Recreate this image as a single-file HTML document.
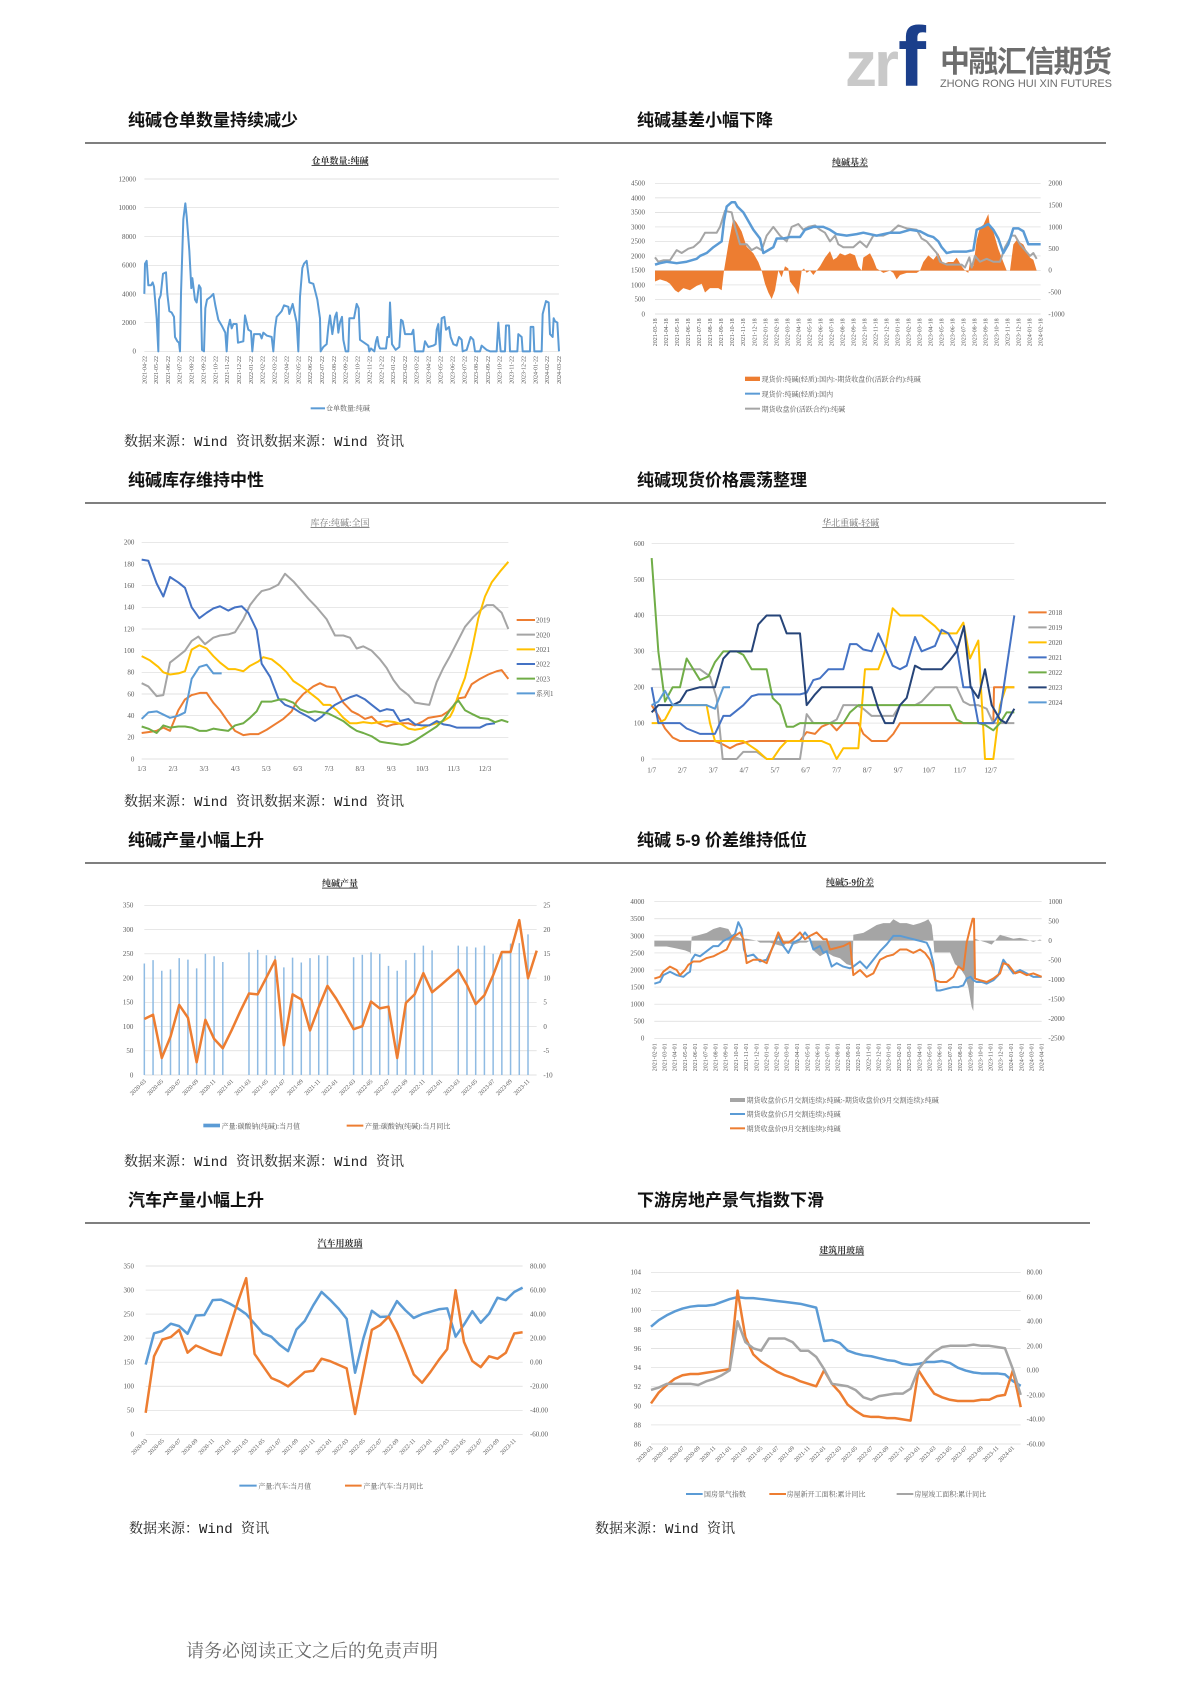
<!DOCTYPE html>
<html><head><meta charset="utf-8"><style>
html,body{margin:0;padding:0;background:#fff}
svg{display:block}
.h{font-family:"Liberation Sans","Noto Sans CJK SC",sans-serif;font-size:17px;font-weight:bold;fill:#111}
.s{font-family:"Liberation Mono","Noto Serif CJK SC",serif;font-size:14px;fill:#222}
.t{font-family:"Liberation Serif","Noto Serif CJK SC",serif;font-size:21px;fill:#595959}
.tt{font-family:"Liberation Serif","Noto Serif CJK SC",serif;font-size:27px;font-weight:bold;fill:#333;text-anchor:middle;text-decoration:underline}
.d{font-family:"Liberation Serif","Noto Serif CJK SC",serif;font-size:18px;fill:#595959;text-anchor:end}
.g{stroke:#d9d9d9;stroke-width:2}
.l{fill:none;stroke-width:2;vector-effect:non-scaling-stroke;stroke-linejoin:round}
.r{text-anchor:end}
</style></head><body>
<svg width="1190" height="1683" viewBox="0 0 1190 1683" xmlns="http://www.w3.org/2000/svg">
<rect width="1190" height="1683" fill="#fff"/>
<!-- logo -->
<text x="845" y="86" font-family="Liberation Sans,sans-serif" font-size="64" font-weight="bold" fill="#c9c9c9" letter-spacing="-3">zr</text>
<text x="898" y="86" font-family="Liberation Sans,sans-serif" font-size="84" font-weight="bold" fill="#1b3f8b">f</text>
<text x="940" y="72" font-family="Liberation Sans,'Noto Sans CJK SC',sans-serif" font-size="30" font-weight="bold" fill="#6d6d6d" textLength="172">中融汇信期货</text>
<text x="940" y="87" font-family="Liberation Sans,sans-serif" font-size="11" fill="#6d6d6d" textLength="172">ZHONG RONG HUI XIN FUTURES</text>

<!-- headings -->
<text class="h" x="128" y="126">纯碱仓单数量持续减少</text>
<text class="h" x="637" y="126">纯碱基差小幅下降</text>
<text class="h" x="128" y="486">纯碱库存维持中性</text>
<text class="h" x="637" y="486">纯碱现货价格震荡整理</text>
<text class="h" x="128" y="846">纯碱产量小幅上升</text>
<text class="h" x="637" y="846">纯碱 5-9 价差维持低位</text>
<text class="h" x="128" y="1206">汽车产量小幅上升</text>
<text class="h" x="637" y="1206">下游房地产景气指数下滑</text>
<g stroke="#333" stroke-width="1.3">
<line x1="85" y1="143" x2="1106" y2="143"/><line x1="85" y1="503" x2="1106" y2="503"/>
<line x1="85" y1="863" x2="1106" y2="863"/><line x1="85" y1="1223" x2="1090" y2="1223"/>
</g>
<text class="s" x="124" y="446">数据来源：Wind 资讯数据来源：Wind 资讯</text>
<text class="s" x="124" y="806">数据来源：Wind 资讯数据来源：Wind 资讯</text>
<text class="s" x="124" y="1166">数据来源：Wind 资讯数据来源：Wind 资讯</text>
<text class="s" x="129" y="1533">数据来源：Wind 资讯</text>
<text class="s" x="595" y="1533">数据来源：Wind 资讯</text>
<text x="186" y="1657" font-family="Liberation Serif,'Noto Serif CJK SC',serif" font-size="18" fill="#666">请务必阅读正文之后的免责声明</text>

<!-- CHART 1 -->
<g transform="translate(80,140) scale(0.33333)">
<text class="tt" x="780" y="72">仓单数量:纯碱</text>
<g class="g"><line x1="193" x2="1437" y1="117" y2="117"/><line x1="193" x2="1437" y1="203" y2="203"/><line x1="193" x2="1437" y1="290" y2="290"/><line x1="193" x2="1437" y1="376" y2="376"/><line x1="193" x2="1437" y1="462" y2="462"/><line x1="193" x2="1437" y1="548" y2="548"/><line x1="193" x2="1437" y1="634" y2="634"/></g>
<g class="t r"><text x="168" y="124">12000</text><text x="168" y="210">10000</text><text x="168" y="297">8000</text><text x="168" y="383">6000</text><text x="168" y="469">4000</text><text x="168" y="555">2000</text><text x="168" y="641">0</text></g>
<g transform="translate(0,634) scale(1,-0.043083)"><polyline class="l" stroke="#5b9bd5" points="193,4000 195,6100 200,6300 205,4600 213,4600 218,4800 222,4500 230,2300 235,0 237,3600 242,3900 249,5400 258,5500 262,4000 268,2800 275,2700 282,2400 285,1000 292,700 297,600 300,0 303,4000 310,9200 316,10300 320,9400 328,7000 334,4400 337,5100 345,3600 350,3400 357,4600 362,4400 366,100 372,0 376,3000 381,3600 392,3800 400,4000 406,3200 415,2200 425,1800 436,1300 440,0 444,1600 450,2200 455,1600 460,1900 470,1900 474,600 490,700 495,2500 505,1500 513,1400 517,0 522,1200 540,1200 545,900 550,1300 560,1100 575,1000 580,0 585,1600 590,2400 605,2800 612,3200 625,3100 628,2600 638,3300 650,2000 655,0 660,3800 667,5800 672,6100 680,6300 688,4800 700,4700 712,3600 720,2300 722,0 730,300 740,500 745,1700 750,2500 757,1200 765,2400 770,2700 775,1300 780,2000 786,2400 790,800 797,0 805,0 808,2300 822,2300 830,3300 836,3000 840,800 865,400 868,0 873,200 883,0 888,700 892,1000 896,400 900,200 918,200 922,1000 927,1000 930,3400 936,500 947,100 958,300 963,2200 968,2100 975,1200 995,1200 1000,1500 1005,0 1030,0 1035,700 1045,300 1060,400 1067,500 1070,1500 1075,1900 1080,0 1085,2300 1093,2400 1098,1500 1107,1700 1112,1000 1120,500 1130,400 1137,1000 1145,800 1148,0 1160,100 1172,1000 1180,800 1185,0 1200,0 1205,400 1215,200 1220,100 1230,0 1250,0 1255,2000 1258,1000 1262,0 1275,0 1278,1800 1287,1800 1290,0 1312,0 1315,1200 1325,1000 1328,0 1350,0 1352,1700 1360,1700 1363,0 1385,0 1388,2600 1398,3500 1406,3400 1410,1200 1418,1000 1421,2300 1425,2100 1432,2000 1437,0"/></g>
<g class="d">
<text transform="translate(199,648) rotate(-90)">2021-04-22</text><text transform="translate(234,648) rotate(-90)">2021-05-22</text><text transform="translate(270,648) rotate(-90)">2021-06-22</text><text transform="translate(305,648) rotate(-90)">2021-07-22</text><text transform="translate(341,648) rotate(-90)">2021-08-22</text><text transform="translate(376,648) rotate(-90)">2021-09-22</text><text transform="translate(412,648) rotate(-90)">2021-10-22</text><text transform="translate(447,648) rotate(-90)">2021-11-22</text><text transform="translate(483,648) rotate(-90)">2021-12-22</text><text transform="translate(519,648) rotate(-90)">2022-01-22</text><text transform="translate(554,648) rotate(-90)">2022-02-22</text><text transform="translate(590,648) rotate(-90)">2022-03-22</text><text transform="translate(625,648) rotate(-90)">2022-04-22</text><text transform="translate(661,648) rotate(-90)">2022-05-22</text><text transform="translate(696,648) rotate(-90)">2022-06-22</text><text transform="translate(732,648) rotate(-90)">2022-07-22</text><text transform="translate(768,648) rotate(-90)">2022-08-22</text><text transform="translate(803,648) rotate(-90)">2022-09-22</text><text transform="translate(839,648) rotate(-90)">2022-10-22</text><text transform="translate(874,648) rotate(-90)">2022-11-22</text><text transform="translate(910,648) rotate(-90)">2022-12-22</text><text transform="translate(945,648) rotate(-90)">2023-01-22</text><text transform="translate(981,648) rotate(-90)">2023-02-22</text><text transform="translate(1016,648) rotate(-90)">2023-03-22</text><text transform="translate(1052,648) rotate(-90)">2023-04-22</text><text transform="translate(1088,648) rotate(-90)">2023-05-22</text><text transform="translate(1123,648) rotate(-90)">2023-06-22</text><text transform="translate(1159,648) rotate(-90)">2023-07-22</text><text transform="translate(1194,648) rotate(-90)">2023-08-22</text><text transform="translate(1230,648) rotate(-90)">2023-09-22</text><text transform="translate(1265,648) rotate(-90)">2023-10-22</text><text transform="translate(1301,648) rotate(-90)">2023-11-22</text><text transform="translate(1336,648) rotate(-90)">2023-12-22</text><text transform="translate(1372,648) rotate(-90)">2024-01-22</text><text transform="translate(1407,648) rotate(-90)">2024-02-22</text><text transform="translate(1443,648) rotate(-90)">2024-03-22</text>
</g>
<line x1="692" x2="735" y1="805" y2="805" stroke="#5b9bd5" stroke-width="6"/>
<text class="t" x="738" y="812" font-size="20">仓单数量:纯碱</text>
</g>

<!-- CHART 2 -->
<g transform="translate(600,100) scale(0.33333)">
<text class="tt" x="750" y="196">纯碱基差</text>
<g class="g"><line x1="165" x2="1322" y1="250" y2="250"/><line x1="165" x2="1322" y1="293.6" y2="293.6"/><line x1="165" x2="1322" y1="337.1" y2="337.1"/><line x1="165" x2="1322" y1="380.7" y2="380.7"/><line x1="165" x2="1322" y1="424.2" y2="424.2"/><line x1="165" x2="1322" y1="467.8" y2="467.8"/><line x1="165" x2="1322" y1="511.3" y2="511.3"/><line x1="165" x2="1322" y1="554.9" y2="554.9"/><line x1="165" x2="1322" y1="598.4" y2="598.4"/><line x1="165" x2="1322" y1="642" y2="642"/></g>
<g class="t r"><text x="135" y="257">4500</text><text x="135" y="301">4000</text><text x="135" y="344">3500</text><text x="135" y="388">3000</text><text x="135" y="431">2500</text><text x="135" y="475">2000</text><text x="135" y="518">1500</text><text x="135" y="562">1000</text><text x="135" y="605">500</text><text x="135" y="649">0</text></g>
<g class="t"><text x="1345" y="257">2000</text><text x="1345" y="322">1500</text><text x="1345" y="388">1000</text><text x="1345" y="453">500</text><text x="1345" y="518">0</text><text x="1345" y="584">-500</text><text x="1345" y="649">-1000</text></g>
<g transform="translate(0,512) scale(1,-0.13067)"><polygon fill="#ed7d31" points="165,0 165,-250 180,-200 200,-250 210,-300 225,-450 235,-500 250,-400 270,-450 290,-350 305,-300 315,-500 330,-400 355,-400 365,-450 372,0 385,600 400,1200 410,1100 425,900 440,550 460,400 475,200 485,0 495,-300 505,-500 515,-650 525,-450 535,0 545,-150 555,100 565,50 570,-250 585,-400 595,-550 600,-300 605,0 612,50 620,-50 630,0 640,-100 650,0 660,100 675,300 690,450 700,250 710,300 720,400 735,350 750,400 765,350 775,100 785,0 790,300 810,400 820,250 830,50 840,0 850,-50 870,0 880,-50 890,-200 900,-100 920,-50 950,-50 960,0 970,200 985,350 1000,250 1015,400 1030,150 1045,200 1060,200 1070,300 1085,100 1095,0 1105,-50 1110,200 1120,100 1130,700 1140,1000 1150,1050 1165,1300 1170,1000 1180,900 1195,500 1210,200 1220,0 1230,0 1240,600 1250,700 1270,600 1290,300 1300,250 1310,0"/></g>
<g transform="translate(0,642) scale(1,-0.087111)">
<polyline class="l" stroke="#a5a5a5" points="165,1950 175,1800 190,1850 210,1850 230,2200 245,2100 265,2250 280,2300 300,2500 315,2800 330,2800 350,2800 360,3000 375,3550 395,3500 405,3000 420,2400 440,2400 455,2200 470,2300 485,2200 500,2700 520,3000 540,2700 560,2500 575,3000 595,3100 610,2900 625,3000 645,3050 660,2900 675,2800 690,2500 705,2700 715,2400 730,2300 760,2300 780,2500 800,2300 820,2700 850,2700 870,2800 895,3050 920,2950 950,2900 965,2600 980,2500 995,2300 1010,2100 1020,1800 1040,1700 1070,1700 1085,1700 1095,1600 1108,1950 1115,1600 1125,2000 1140,1800 1160,1900 1180,1800 1200,1800 1215,2300 1235,2700 1245,2700 1260,2400 1275,2200 1290,2000 1300,2100 1310,1900"/>
<polyline class="l" stroke="#5b9bd5" style="stroke-width:2.5" points="165,1700 180,1750 200,1800 230,1750 260,1800 290,1900 300,2000 320,2100 340,2300 365,2500 372,3200 380,3700 395,3850 405,3850 412,3700 430,3500 440,3300 460,2900 480,2600 490,2100 505,2200 520,2300 530,2600 550,2600 570,2650 600,2650 615,2900 640,3000 670,3000 690,2900 710,2750 740,2700 770,2750 790,2800 830,2700 870,2800 900,2800 930,2900 960,2850 985,2700 1000,2650 1015,2500 1025,2300 1040,2100 1060,2150 1080,2150 1100,2150 1120,2200 1130,2900 1150,3000 1165,3100 1180,2900 1195,2600 1210,2100 1225,2400 1240,2950 1255,2950 1270,2850 1285,2400 1300,2400 1322,2400"/>
</g>
<g class="d">
<text transform="translate(171,655) rotate(-90)">2021-03-18</text><text transform="translate(204,655) rotate(-90)">2021-04-18</text><text transform="translate(237,655) rotate(-90)">2021-05-18</text><text transform="translate(270,655) rotate(-90)">2021-06-18</text><text transform="translate(303,655) rotate(-90)">2021-07-18</text><text transform="translate(336,655) rotate(-90)">2021-08-18</text><text transform="translate(369,655) rotate(-90)">2021-09-18</text><text transform="translate(402,655) rotate(-90)">2021-10-18</text><text transform="translate(435,655) rotate(-90)">2021-11-18</text><text transform="translate(469,655) rotate(-90)">2021-12-18</text><text transform="translate(502,655) rotate(-90)">2022-01-18</text><text transform="translate(535,655) rotate(-90)">2022-02-18</text><text transform="translate(568,655) rotate(-90)">2022-03-18</text><text transform="translate(601,655) rotate(-90)">2022-04-18</text><text transform="translate(634,655) rotate(-90)">2022-05-18</text><text transform="translate(667,655) rotate(-90)">2022-06-18</text><text transform="translate(700,655) rotate(-90)">2022-07-18</text><text transform="translate(733,655) rotate(-90)">2022-08-18</text><text transform="translate(766,655) rotate(-90)">2022-09-18</text><text transform="translate(799,655) rotate(-90)">2022-10-18</text><text transform="translate(832,655) rotate(-90)">2022-11-18</text><text transform="translate(865,655) rotate(-90)">2022-12-18</text><text transform="translate(898,655) rotate(-90)">2023-01-18</text><text transform="translate(931,655) rotate(-90)">2023-02-18</text><text transform="translate(964,655) rotate(-90)">2023-03-18</text><text transform="translate(998,655) rotate(-90)">2023-04-18</text><text transform="translate(1031,655) rotate(-90)">2023-05-18</text><text transform="translate(1064,655) rotate(-90)">2023-06-18</text><text transform="translate(1097,655) rotate(-90)">2023-07-18</text><text transform="translate(1130,655) rotate(-90)">2023-08-18</text><text transform="translate(1163,655) rotate(-90)">2023-09-18</text><text transform="translate(1196,655) rotate(-90)">2023-10-18</text><text transform="translate(1229,655) rotate(-90)">2023-11-18</text><text transform="translate(1262,655) rotate(-90)">2023-12-18</text><text transform="translate(1295,655) rotate(-90)">2024-01-18</text><text transform="translate(1328,655) rotate(-90)">2024-02-18</text>
</g>
<rect x="435" y="830" width="45" height="13" fill="#ed7d31"/>
<line x1="435" x2="480" y1="881" y2="881" stroke="#5b9bd5" stroke-width="6"/>
<line x1="435" x2="480" y1="926" y2="926" stroke="#a5a5a5" stroke-width="6"/>
<g class="t"><text x="485" y="844">现货价:纯碱(轻质):国内:-期货收盘价(活跃合约):纯碱</text><text x="485" y="889">现货价:纯碱(轻质):国内</text><text x="485" y="934">期货收盘价(活跃合约):纯碱</text></g>
</g>

<!-- CHART 3 -->
<g transform="translate(80,460) scale(0.33333)">
<text class="tt" x="780" y="198" style="fill:#777;font-weight:normal">库存:纯碱:全国</text>
<g class="g"><line x1="185" x2="1285" y1="247" y2="247"/><line x1="185" x2="1285" y1="312" y2="312"/><line x1="185" x2="1285" y1="377" y2="377"/><line x1="185" x2="1285" y1="442" y2="442"/><line x1="185" x2="1285" y1="507" y2="507"/><line x1="185" x2="1285" y1="572" y2="572"/><line x1="185" x2="1285" y1="637" y2="637"/><line x1="185" x2="1285" y1="702" y2="702"/><line x1="185" x2="1285" y1="767" y2="767"/><line x1="185" x2="1285" y1="832" y2="832"/><line x1="185" x2="1285" y1="897" y2="897"/></g>
<g class="t r"><text x="163" y="254">200</text><text x="163" y="319">180</text><text x="163" y="384">160</text><text x="163" y="449">140</text><text x="163" y="514">120</text><text x="163" y="579">100</text><text x="163" y="644">80</text><text x="163" y="709">60</text><text x="163" y="774">40</text><text x="163" y="839">20</text><text x="163" y="904">0</text></g>
<g class="t" text-anchor="middle"><text x="185" y="933">1/3</text><text x="279" y="933">2/3</text><text x="372" y="933">3/3</text><text x="466" y="933">4/3</text><text x="559" y="933">5/3</text><text x="653" y="933">6/3</text><text x="747" y="933">7/3</text><text x="840" y="933">8/3</text><text x="934" y="933">9/3</text><text x="1027" y="933">10/3</text><text x="1121" y="933">11/3</text><text x="1215" y="933">12/3</text></g>
<g transform="translate(0,897) scale(1,-3.25)">
<polyline class="l" stroke="#a5a5a5" points="185,70 205,67 230,58 250,59 270,89 295,95 315,100 335,109 355,113 375,106 400,112 420,114 445,115 465,117 490,129 510,142 530,150 545,155 570,157 595,161 615,171 640,164 660,157 685,148 710,140 740,129 765,114 790,114 810,112 830,102 850,104 875,100 900,92 920,84 940,73 960,65 985,59 1005,52 1025,51 1048,50 1070,71 1090,84 1110,95 1130,107 1155,122 1180,131 1200,137 1220,142 1240,142 1265,135 1285,120"/>
<polyline class="l" stroke="#ed7d31" points="185,24 210,25 230,26 250,29 270,26 295,45 315,55 335,59 360,61 380,61 400,52 420,45 445,34 465,26 490,22 510,23 535,23 560,27 585,32 610,37 635,44 650,53 670,60 700,67 720,70 740,67 765,66 790,52 815,44 835,41 855,37 875,39 895,33 920,30 940,32 965,33 985,33 1005,31 1030,35 1045,38 1065,39 1085,40 1105,44 1120,49 1135,56 1155,57 1175,69 1200,74 1225,78 1250,81 1265,82 1285,74"/>
<polyline class="l" stroke="#ffc000" points="185,95 210,91 235,85 250,80 270,78 295,79 315,81 335,101 358,105 380,102 400,95 420,89 445,83 465,83 490,81 510,86 535,90 550,94 575,92 600,86 620,80 640,72 665,67 690,61 715,55 730,50 750,50 770,45 790,38 810,33 830,33 850,34 875,33 900,34 920,35 945,34 965,32 985,28 1005,27 1025,28 1045,31 1070,33 1090,35 1110,39 1120,45 1135,59 1155,75 1175,100 1195,130 1215,150 1235,163 1260,173 1285,182"/>
<polyline class="l" stroke="#4472c4" points="185,184 205,183 230,162 250,150 270,168 295,163 315,158 335,140 358,130 380,135 400,139 420,141 445,137 465,140 485,141 505,135 530,119 545,88 570,76 595,56 615,50 640,47 660,43 685,39 705,35 725,39 745,45 765,50 790,54 810,57 830,59 855,55 875,50 900,44 920,46 940,45 960,35 985,37 1005,32 1025,31 1048,31 1070,35 1090,32 1110,31 1130,29 1155,29 1175,29 1200,29 1220,32 1245,33"/>
<polyline class="l" stroke="#70ad47" points="185,30 205,28 230,24 250,31 270,29 295,30 315,30 335,29 358,26 380,26 400,28 420,27 445,26 465,31 490,33 510,38 530,44 545,53 575,53 600,55 615,55 640,52 660,46 685,43 705,44 725,43 745,42 765,39 790,35 810,30 830,26 850,24 875,21 900,16 920,15 945,14 965,13 985,14 1005,17 1025,21 1045,25 1070,30 1090,36 1110,45 1125,51 1135,54 1155,45 1180,41 1200,38 1225,37 1245,34 1265,36 1285,34"/>
<polyline class="l" stroke="#5b9bd5" points="185,37 205,43 230,44 250,41 270,38 295,40 315,43 335,74 358,85 380,87 400,79 425,79"/>
</g>
<g stroke-width="6"><line x1="1310" x2="1365" y1="480" y2="480" stroke="#ed7d31"/><line x1="1310" x2="1365" y1="524" y2="524" stroke="#a5a5a5"/><line x1="1310" x2="1365" y1="568" y2="568" stroke="#ffc000"/><line x1="1310" x2="1365" y1="612" y2="612" stroke="#4472c4"/><line x1="1310" x2="1365" y1="656" y2="656" stroke="#70ad47"/><line x1="1310" x2="1365" y1="700" y2="700" stroke="#5b9bd5"/></g>
<g class="t" font-size="22"><text x="1368" y="488">2019</text><text x="1368" y="532">2020</text><text x="1368" y="576">2021</text><text x="1368" y="620">2022</text><text x="1368" y="664">2023</text><text x="1368" y="708">系列1</text></g>
</g>

<!-- CHART 4 -->
<g transform="translate(600,460) scale(0.33333)">
<text class="tt" x="752" y="198" style="fill:#777;font-weight:normal">华北重碱-轻碱</text>
<g class="g"><line x1="155" x2="1243" y1="251" y2="251"/><line x1="155" x2="1243" y1="358.7" y2="358.7"/><line x1="155" x2="1243" y1="466.3" y2="466.3"/><line x1="155" x2="1243" y1="574" y2="574"/><line x1="155" x2="1243" y1="681.7" y2="681.7"/><line x1="155" x2="1243" y1="789.3" y2="789.3"/><line x1="155" x2="1243" y1="897" y2="897"/></g>
<g class="t r"><text x="133" y="258">600</text><text x="133" y="366">500</text><text x="133" y="473">400</text><text x="133" y="581">300</text><text x="133" y="689">200</text><text x="133" y="796">100</text><text x="133" y="904">0</text></g>
<g class="t" text-anchor="middle"><text x="155" y="937">1/7</text><text x="247" y="937">2/7</text><text x="340" y="937">3/7</text><text x="432" y="937">4/7</text><text x="525" y="937">5/7</text><text x="617" y="937">6/7</text><text x="710" y="937">7/7</text><text x="802" y="937">8/7</text><text x="895" y="937">9/7</text><text x="987" y="937">10/7</text><text x="1080" y="937">11/7</text><text x="1172" y="937">12/7</text></g>
<g transform="translate(0,897) scale(1,-1.07667)">
<polyline class="l" stroke="#ed7d31" points="155,150 175,120 195,85 218,60 240,50 270,50 300,50 345,50 370,40 390,30 410,40 430,45 450,50 600,50 620,75 645,70 665,90 690,100 710,80 730,100 775,100 790,70 815,50 860,50 880,70 900,100 1180,100 1182,200 1243,200"/>
<polyline class="l" stroke="#a5a5a5" points="155,250 300,250 330,230 350,170 368,0 410,0 430,20 470,20 500,0 600,0 620,125 640,100 690,100 710,110 730,150 770,150 790,140 815,120 860,120 880,120 900,150 945,150 965,160 1005,200 1070,200 1090,160 1110,150 1135,150 1160,140 1180,100 1243,100"/>
<polyline class="l" stroke="#ffc000" points="155,100 175,100 195,110 218,150 320,150 330,100 345,50 430,50 470,25 500,0 518,0 540,30 560,50 665,50 690,40 710,0 730,30 775,30 795,250 835,250 855,300 878,420 900,400 965,400 1005,370 1025,350 1070,350 1090,380 1110,280 1135,330 1155,0 1180,0 1200,150 1218,200 1243,200"/>
<polyline class="l" stroke="#70ad47" points="155,560 175,300 195,160 218,200 240,200 260,280 300,220 325,230 345,270 370,300 410,300 430,290 455,250 500,250 518,170 540,150 560,90 580,90 600,100 730,100 750,130 775,150 1050,150 1070,110 1090,100 1135,100 1155,95 1180,80 1200,100 1220,130 1243,130"/>
<polyline class="l" stroke="#4472c4" points="155,200 175,100 240,100 260,85 300,70 345,70 370,120 390,120 410,135 430,150 455,175 475,180 600,180 620,185 640,220 660,225 685,250 730,250 750,320 770,320 790,305 815,300 835,350 855,310 878,260 900,250 920,260 945,340 965,300 1005,315 1025,360 1045,350 1070,310 1090,200 1115,200 1135,100 1180,100 1200,130 1243,400"/>
<polyline class="l" stroke="#264478" points="155,130 175,150 218,150 240,160 260,190 300,200 345,200 370,280 390,300 455,300 475,375 500,400 540,400 560,350 600,350 620,150 645,180 665,200 815,200 835,140 855,100 880,100 900,150 920,170 945,260 965,250 1025,250 1045,270 1070,300 1092,370 1112,200 1135,170 1155,250 1175,150 1200,110 1218,100 1243,140"/>
<polyline class="l" stroke="#5b9bd5" points="155,150 175,160 195,190 218,150 320,150 345,140 370,200 390,200"/>
</g>
<g stroke-width="6"><line x1="1285" x2="1340" y1="457" y2="457" stroke="#ed7d31"/><line x1="1285" x2="1340" y1="502" y2="502" stroke="#a5a5a5"/><line x1="1285" x2="1340" y1="547" y2="547" stroke="#ffc000"/><line x1="1285" x2="1340" y1="592" y2="592" stroke="#4472c4"/><line x1="1285" x2="1340" y1="637" y2="637" stroke="#70ad47"/><line x1="1285" x2="1340" y1="682" y2="682" stroke="#264478"/><line x1="1285" x2="1340" y1="727" y2="727" stroke="#5b9bd5"/></g>
<g class="t" font-size="22"><text x="1345" y="465">2018</text><text x="1345" y="510">2019</text><text x="1345" y="555">2020</text><text x="1345" y="600">2021</text><text x="1345" y="645">2022</text><text x="1345" y="690">2023</text><text x="1345" y="735">2024</text></g>
</g>

<!-- CHART 5 -->
<g transform="translate(80,820) scale(0.33333)">
<text class="tt" x="780" y="200">纯碱产量</text>
<g class="g"><line x1="193" x2="1370" y1="256" y2="256"/><line x1="193" x2="1370" y1="328.7" y2="328.7"/><line x1="193" x2="1370" y1="401.4" y2="401.4"/><line x1="193" x2="1370" y1="474.1" y2="474.1"/><line x1="193" x2="1370" y1="546.9" y2="546.9"/><line x1="193" x2="1370" y1="619.6" y2="619.6"/><line x1="193" x2="1370" y1="692.3" y2="692.3"/><line x1="193" x2="1370" y1="765" y2="765"/></g>
<g class="t r"><text x="160" y="263">350</text><text x="160" y="336">300</text><text x="160" y="408">250</text><text x="160" y="481">200</text><text x="160" y="554">150</text><text x="160" y="627">100</text><text x="160" y="699">50</text><text x="160" y="772">0</text></g>
<g class="t"><text x="1390" y="263">25</text><text x="1390" y="336">20</text><text x="1390" y="408">15</text><text x="1390" y="481">10</text><text x="1390" y="554">5</text><text x="1390" y="627">0</text><text x="1390" y="699">-5</text><text x="1390" y="772">-10</text></g>
<g transform="translate(193,765) scale(26.16,-1.4543)" stroke="#8fbbe3"><path class="l" style="stroke-width:1.5" d="M0,0V230M1,0V237M2,0V215M3,0V218M4,0V241M5,0V238M6,0V220M7,0V250M8,0V245M9,0V233M12,0V253M13,0V258M14,0V247M15,0V246M16,0V222M17,0V242M18,0V232M19,0V241M20,0V247M21,0V246M24,0V243M25,0V248M26,0V253M27,0V250M28,0V225M29,0V215M30,0V237M31,0V252M32,0V267M33,0V257M36,0V267M37,0V265M38,0V263M39,0V267M40,0V250M41,0V255M42,0V271M43,0V272M44,0V290"/></g>
<g transform="translate(193,574) scale(26.16,-12.725)"><polyline class="l" stroke="#ed7d31" style="stroke-width:2.5" points="0,-1.8 1,-0.8 2,-11 3,-6 4,1.5 5,-1.5 6,-12 7,-2 8,-6.5 9,-8.7 10,-4.5 11,0 12,4.2 13,4 14,8 15,12 16,-8 17,4 18,2.8 19,-4.5 20,1 21,6 22,3 23,-0.5 24,-4.2 25,-3.5 26,2.3 27,0.7 28,1.1 29,-11 30,2 31,4 32,9 33,4.5 34,6.2 35,8 36,9.8 37,6.2 38,1.7 39,3.8 40,8.5 41,14 42,14 43,21.5 44,7.8 45,14.3"/></g>
<g class="d" font-size="20">
<text transform="translate(199,785) rotate(-45)">2020-03</text><text transform="translate(251,785) rotate(-45)">2020-05</text><text transform="translate(304,785) rotate(-45)">2020-07</text><text transform="translate(356,785) rotate(-45)">2020-09</text><text transform="translate(408,785) rotate(-45)">2020-11</text><text transform="translate(461,785) rotate(-45)">2021-01</text><text transform="translate(513,785) rotate(-45)">2021-03</text><text transform="translate(565,785) rotate(-45)">2021-05</text><text transform="translate(617,785) rotate(-45)">2021-07</text><text transform="translate(670,785) rotate(-45)">2021-09</text><text transform="translate(722,785) rotate(-45)">2021-11</text><text transform="translate(774,785) rotate(-45)">2022-01</text><text transform="translate(827,785) rotate(-45)">2022-03</text><text transform="translate(879,785) rotate(-45)">2022-05</text><text transform="translate(931,785) rotate(-45)">2022-07</text><text transform="translate(984,785) rotate(-45)">2022-09</text><text transform="translate(1036,785) rotate(-45)">2022-11</text><text transform="translate(1088,785) rotate(-45)">2023-01</text><text transform="translate(1140,785) rotate(-45)">2023-03</text><text transform="translate(1193,785) rotate(-45)">2023-05</text><text transform="translate(1245,785) rotate(-45)">2023-07</text><text transform="translate(1297,785) rotate(-45)">2023-09</text><text transform="translate(1350,785) rotate(-45)">2023-11</text>
</g>
<rect x="370" y="911" width="50" height="11" fill="#5b9bd5"/>
<line x1="800" x2="850" y1="917" y2="917" stroke="#ed7d31" stroke-width="6"/>
<g class="t"><text x="425" y="925">产量:碳酸钠(纯碱):当月值</text><text x="855" y="925">产量:碳酸钠(纯碱):当月同比</text></g>
</g>

<!-- CHART 6 -->
<g transform="translate(600,820) scale(0.33333)">
<text class="tt" x="750" y="196">纯碱5-9价差</text>
<g class="g"><line x1="163" x2="1325" y1="245" y2="245"/><line x1="163" x2="1325" y1="296.25" y2="296.25"/><line x1="163" x2="1325" y1="347.5" y2="347.5"/><line x1="163" x2="1325" y1="398.75" y2="398.75"/><line x1="163" x2="1325" y1="450" y2="450"/><line x1="163" x2="1325" y1="501.25" y2="501.25"/><line x1="163" x2="1325" y1="552.5" y2="552.5"/><line x1="163" x2="1325" y1="603.75" y2="603.75"/><line x1="163" x2="1325" y1="655" y2="655"/></g>
<g class="t r"><text x="133" y="252">4000</text><text x="133" y="303">3500</text><text x="133" y="355">3000</text><text x="133" y="406">2500</text><text x="133" y="457">2000</text><text x="133" y="508">1500</text><text x="133" y="560">1000</text><text x="133" y="611">500</text><text x="133" y="662">0</text></g>
<g class="t"><text x="1345" y="252">1000</text><text x="1345" y="311">500</text><text x="1345" y="369">0</text><text x="1345" y="428">-500</text><text x="1345" y="486">-1000</text><text x="1345" y="545">-1500</text><text x="1345" y="603">-2000</text><text x="1345" y="662">-2500</text></g>
<g transform="translate(0,362) scale(1,-0.11714)"><polygon fill="#a5a5a5" points="163,0 163,-150 200,-150 230,-200 255,-250 270,-300 272,-350 275,100 300,150 320,200 340,300 360,350 385,300 395,150 410,100 425,50 440,50 470,0 480,-50 510,-50 530,-100 550,-150 560,-50 580,-100 600,-50 620,-50 630,0 640,-250 660,-400 680,-300 700,-400 720,-450 740,-600 758,-650 760,150 790,200 810,300 830,400 850,450 870,450 880,550 900,450 920,450 940,400 960,450 975,500 985,550 995,400 1000,50 1003,-300 1030,-300 1050,-300 1065,-600 1080,-700 1095,-900 1105,-1200 1115,-1700 1120,-1800 1125,50 1140,0 1160,-50 1175,-100 1190,50 1200,150 1220,100 1240,50 1260,70 1280,30 1300,-30 1320,30 1325,0"/></g>
<g transform="translate(0,655) scale(1,-0.1025)">
<polyline class="l" stroke="#5b9bd5" points="163,1600 180,1650 190,1850 210,1950 230,1850 250,1800 262,1900 270,1950 275,2300 285,2450 300,2400 320,2550 340,2700 355,2700 370,2850 390,2950 405,3050 415,3400 425,3200 432,2600 440,2400 460,2450 480,2250 500,2300 515,2600 535,3000 550,2700 565,2500 580,2800 600,2900 615,3100 630,2900 640,2600 660,2700 670,2500 680,2550 695,2100 710,2200 730,2100 750,2050 760,2100 780,2250 800,2050 820,2300 840,2550 860,2750 880,3000 900,3000 920,2950 940,2900 960,2850 980,2800 990,2600 1000,2200 1010,1400 1020,1400 1040,1450 1060,1500 1075,1500 1090,1550 1100,1750 1112,1800 1120,1700 1130,1650 1145,1650 1160,1600 1180,1700 1195,1850 1210,2300 1225,2100 1240,1900 1260,2000 1280,1900 1300,1800 1325,1800"/>
<polyline class="l" stroke="#ed7d31" points="163,1750 180,1800 190,1950 210,2100 230,2000 240,1850 255,2000 265,2150 280,2250 300,2250 320,2350 340,2400 360,2500 380,2600 395,2900 405,3000 420,3100 430,2900 440,2200 460,2300 480,2300 500,2200 515,2600 535,3100 550,2800 565,2800 580,2900 600,3100 615,2900 630,3000 650,3100 670,2900 680,2900 690,2600 710,2650 730,2700 750,2800 760,1850 780,2000 800,1800 820,1900 840,2300 860,2400 880,2450 900,2600 920,2600 940,2500 960,2600 975,2500 990,2300 1000,2000 1005,1700 1020,1650 1040,1650 1060,1800 1075,2100 1090,2000 1100,2800 1110,3200 1118,3500 1122,3500 1125,1750 1140,1700 1160,1650 1180,1750 1200,1900 1210,2200 1225,2150 1245,1900 1260,1950 1280,1850 1300,1900 1325,1800"/>
</g>
<g class="d">
<text transform="translate(169,670) rotate(-90)">2021-02-01</text><text transform="translate(200,670) rotate(-90)">2021-03-01</text><text transform="translate(230,670) rotate(-90)">2021-04-01</text><text transform="translate(261,670) rotate(-90)">2021-05-01</text><text transform="translate(291,670) rotate(-90)">2021-06-01</text><text transform="translate(322,670) rotate(-90)">2021-07-01</text><text transform="translate(352,670) rotate(-90)">2021-08-01</text><text transform="translate(383,670) rotate(-90)">2021-09-01</text><text transform="translate(414,670) rotate(-90)">2021-10-01</text><text transform="translate(444,670) rotate(-90)">2021-11-01</text><text transform="translate(475,670) rotate(-90)">2021-12-01</text><text transform="translate(505,670) rotate(-90)">2022-01-01</text><text transform="translate(536,670) rotate(-90)">2022-02-01</text><text transform="translate(566,670) rotate(-90)">2022-03-01</text><text transform="translate(597,670) rotate(-90)">2022-04-01</text><text transform="translate(628,670) rotate(-90)">2022-05-01</text><text transform="translate(658,670) rotate(-90)">2022-06-01</text><text transform="translate(689,670) rotate(-90)">2022-07-01</text><text transform="translate(719,670) rotate(-90)">2022-08-01</text><text transform="translate(750,670) rotate(-90)">2022-09-01</text><text transform="translate(780,670) rotate(-90)">2022-10-01</text><text transform="translate(811,670) rotate(-90)">2022-11-01</text><text transform="translate(842,670) rotate(-90)">2022-12-01</text><text transform="translate(872,670) rotate(-90)">2023-01-01</text><text transform="translate(903,670) rotate(-90)">2023-02-01</text><text transform="translate(933,670) rotate(-90)">2023-03-01</text><text transform="translate(964,670) rotate(-90)">2023-04-01</text><text transform="translate(994,670) rotate(-90)">2023-05-01</text><text transform="translate(1025,670) rotate(-90)">2023-06-01</text><text transform="translate(1056,670) rotate(-90)">2023-07-01</text><text transform="translate(1086,670) rotate(-90)">2023-08-01</text><text transform="translate(1117,670) rotate(-90)">2023-09-01</text><text transform="translate(1147,670) rotate(-90)">2023-10-01</text><text transform="translate(1178,670) rotate(-90)">2023-11-01</text><text transform="translate(1208,670) rotate(-90)">2023-12-01</text><text transform="translate(1239,670) rotate(-90)">2024-01-01</text><text transform="translate(1270,670) rotate(-90)">2024-02-01</text><text transform="translate(1300,670) rotate(-90)">2024-03-01</text><text transform="translate(1331,670) rotate(-90)">2024-04-01</text>
</g>
<rect x="390" y="834" width="45" height="12" fill="#a5a5a5"/>
<line x1="390" x2="435" y1="882" y2="882" stroke="#5b9bd5" stroke-width="6"/>
<line x1="390" x2="435" y1="925" y2="925" stroke="#ed7d31" stroke-width="6"/>
<g class="t"><text x="440" y="848">期货收盘价(5月交割连续):纯碱:-期货收盘价(9月交割连续):纯碱</text><text x="440" y="890">期货收盘价(5月交割连续):纯碱</text><text x="440" y="933">期货收盘价(9月交割连续):纯碱</text></g>
</g>

<!-- CHART 7 -->
<g transform="translate(80,1180) scale(0.33333)">
<text class="tt" x="780" y="200">汽车用玻璃</text>
<g class="g"><line x1="197" x2="1328" y1="258" y2="258"/><line x1="197" x2="1328" y1="330.1" y2="330.1"/><line x1="197" x2="1328" y1="402.3" y2="402.3"/><line x1="197" x2="1328" y1="474.4" y2="474.4"/><line x1="197" x2="1328" y1="546.6" y2="546.6"/><line x1="197" x2="1328" y1="618.7" y2="618.7"/><line x1="197" x2="1328" y1="690.9" y2="690.9"/><line x1="197" x2="1328" y1="763" y2="763"/></g>
<g class="t r"><text x="162" y="265">350</text><text x="162" y="337">300</text><text x="162" y="409">250</text><text x="162" y="481">200</text><text x="162" y="553">150</text><text x="162" y="626">100</text><text x="162" y="698">50</text><text x="162" y="770">0</text></g>
<g class="t"><text x="1350" y="265">80.00</text><text x="1350" y="337">60.00</text><text x="1350" y="409">40.00</text><text x="1350" y="481">20.00</text><text x="1350" y="553">0.00</text><text x="1350" y="626">-20.00</text><text x="1350" y="698">-40.00</text><text x="1350" y="770">-60.00</text></g>
<g transform="translate(197,763) scale(25.13,-1.4429)"><polyline class="l" stroke="#5b9bd5" style="stroke-width:2.5" points="0,145 1,210 2,215 3,230 4,225 5,209 6,247 7,248 8,279 9,280 10,272 11,262 12,250 13,230 14,210 15,203 16,186 17,173 18,218 19,236 20,268 21,296 22,280 23,262 24,240 25,128 26,200 27,257 28,244 29,245 30,277 31,258 32,242 33,250 34,255 35,260 36,262 37,203 38,228 39,256 40,232 41,251 42,284 43,279 44,296 45,305"/></g>
<g transform="translate(197,547) scale(25.13,-3.607)"><polyline class="l" stroke="#ed7d31" style="stroke-width:2.5" points="0,-42 1,5 2,19 3,21 4,27 5,8 6,14 7,11 8,8 9,6 10,28 11,50 12,70 13,7 14,-3 15,-13 16,-16 17,-20 18,-14 19,-8 20,-7 21,3 22,1 23,-2 24,-5 25,-43 26,-8 27,27 28,31 29,38 30,25 31,8 32,-10 33,-17 34,-8 35,2 36,11 37,60 38,17 39,1 40,-4 41,5 42,3 43,8 44,24 45,25"/></g>
<g class="d" font-size="20">
<text transform="translate(203,783) rotate(-45)">2020-03</text><text transform="translate(253,783) rotate(-45)">2020-05</text><text transform="translate(304,783) rotate(-45)">2020-07</text><text transform="translate(354,783) rotate(-45)">2020-09</text><text transform="translate(404,783) rotate(-45)">2020-11</text><text transform="translate(454,783) rotate(-45)">2021-01</text><text transform="translate(505,783) rotate(-45)">2021-03</text><text transform="translate(555,783) rotate(-45)">2021-05</text><text transform="translate(605,783) rotate(-45)">2021-07</text><text transform="translate(655,783) rotate(-45)">2021-09</text><text transform="translate(706,783) rotate(-45)">2021-11</text><text transform="translate(756,783) rotate(-45)">2022-01</text><text transform="translate(806,783) rotate(-45)">2022-03</text><text transform="translate(856,783) rotate(-45)">2022-05</text><text transform="translate(907,783) rotate(-45)">2022-07</text><text transform="translate(957,783) rotate(-45)">2022-09</text><text transform="translate(1007,783) rotate(-45)">2022-11</text><text transform="translate(1057,783) rotate(-45)">2023-01</text><text transform="translate(1108,783) rotate(-45)">2023-03</text><text transform="translate(1158,783) rotate(-45)">2023-05</text><text transform="translate(1208,783) rotate(-45)">2023-07</text><text transform="translate(1258,783) rotate(-45)">2023-09</text><text transform="translate(1309,783) rotate(-45)">2023-11</text>
</g>
<line x1="478" x2="530" y1="917" y2="917" stroke="#5b9bd5" stroke-width="6"/>
<line x1="795" x2="845" y1="917" y2="917" stroke="#ed7d31" stroke-width="6"/>
<g class="t"><text x="535" y="925">产量:汽车:当月值</text><text x="850" y="925">产量:汽车:当月同比</text></g>
</g>

<!-- CHART 8 -->
<g transform="translate(580,1180) scale(0.33333)">
<text class="tt" x="785" y="221">建筑用玻璃</text>
<g class="g"><line x1="213" x2="1322" y1="277" y2="277"/><line x1="213" x2="1322" y1="334.2" y2="334.2"/><line x1="213" x2="1322" y1="391.4" y2="391.4"/><line x1="213" x2="1322" y1="448.7" y2="448.7"/><line x1="213" x2="1322" y1="505.9" y2="505.9"/><line x1="213" x2="1322" y1="563.1" y2="563.1"/><line x1="213" x2="1322" y1="620.3" y2="620.3"/><line x1="213" x2="1322" y1="677.6" y2="677.6"/><line x1="213" x2="1322" y1="734.8" y2="734.8"/><line x1="213" x2="1322" y1="792" y2="792"/></g>
<g class="t r"><text x="183" y="284">104</text><text x="183" y="341">102</text><text x="183" y="398">100</text><text x="183" y="456">98</text><text x="183" y="513">96</text><text x="183" y="570">94</text><text x="183" y="627">92</text><text x="183" y="685">90</text><text x="183" y="742">88</text><text x="183" y="799">86</text></g>
<g class="t"><text x="1340" y="284">80.00</text><text x="1340" y="358">60.00</text><text x="1340" y="431">40.00</text><text x="1340" y="505">20.00</text><text x="1340" y="578">0.00</text><text x="1340" y="652">-20.00</text><text x="1340" y="725">-40.00</text><text x="1340" y="799">-60.00</text></g>
<g transform="translate(213,3252.5) scale(23.6,-28.61)"><polyline class="l" stroke="#5b9bd5" style="stroke-width:2.5" points="0,98.3 1,99 2,99.5 3,99.9 4,100.2 5,100.4 6,100.5 7,100.5 8,100.6 9,100.9 10,101.2 11,101.4 12,101.3 13,101.3 14,101.2 15,101.1 16,101 17,100.9 18,100.8 19,100.7 20,100.5 21,100.3 22,96.8 23,96.9 24,96.6 25,95.8 26,95.5 27,95.3 28,95.2 29,95 30,94.8 31,94.7 32,94.4 33,94.3 34,94.4 35,94.6 36,94.6 37,94.7 38,94.5 39,94 40,93.7 41,93.5 42,93.4 43,93.4 44,93.4 45,93.3 46,92.6 47,92.1"/></g>
<g transform="translate(213,571) scale(23.6,-3.679)">
<polyline class="l" stroke="#ed7d31" style="stroke-width:2.5" points="0,-27 1,-18 2,-12 3,-7 4,-4 5,-3 6,-3 7,-2 8,-1 9,0 10,1 11,65 12,27 13,13 14,7 15,3 16,-1 17,-4 18,-6 19,-9 20,-11 21,-13 22,0 23,-11 24,-18 25,-28 26,-33 27,-37 28,-38 29,-38 30,-39 31,-39 32,-40 33,-41 34,0 35,-10 36,-19 37,-22 38,-24 39,-25 40,-25 41,-25 42,-24 43,-24 44,-21 45,-20 46,0 47,-30"/>
<polyline class="l" stroke="#a5a5a5" style="stroke-width:2.5" points="0,-16 1,-14 2,-11 3,-11 4,-11 5,-11 6,-12 7,-9 8,-7 9,-4 10,0 11,40 12,23 13,18 14,16 15,26 16,26 17,26 18,23 19,16 20,16 21,11 22,1 23,-11 24,-12 25,-13 26,-16 27,-22 28,-24 29,-21 30,-20 31,-19 32,-19 33,-15 34,1 35,9 36,15 37,19 38,20 39,20 40,20 41,21 42,20 43,20 44,19 45,18 46,1 47,-20"/>
</g>
<g class="d" font-size="20">
<text transform="translate(219,805) rotate(-45)">2020-03</text><text transform="translate(266,805) rotate(-45)">2020-05</text><text transform="translate(313,805) rotate(-45)">2020-07</text><text transform="translate(361,805) rotate(-45)">2020-09</text><text transform="translate(408,805) rotate(-45)">2020-11</text><text transform="translate(455,805) rotate(-45)">2021-01</text><text transform="translate(502,805) rotate(-45)">2021-03</text><text transform="translate(549,805) rotate(-45)">2021-05</text><text transform="translate(597,805) rotate(-45)">2021-07</text><text transform="translate(644,805) rotate(-45)">2021-09</text><text transform="translate(691,805) rotate(-45)">2021-11</text><text transform="translate(738,805) rotate(-45)">2022-01</text><text transform="translate(785,805) rotate(-45)">2022-03</text><text transform="translate(833,805) rotate(-45)">2022-05</text><text transform="translate(880,805) rotate(-45)">2022-07</text><text transform="translate(927,805) rotate(-45)">2022-09</text><text transform="translate(974,805) rotate(-45)">2022-11</text><text transform="translate(1021,805) rotate(-45)">2023-01</text><text transform="translate(1068,805) rotate(-45)">2023-03</text><text transform="translate(1116,805) rotate(-45)">2023-05</text><text transform="translate(1163,805) rotate(-45)">2023-07</text><text transform="translate(1210,805) rotate(-45)">2023-09</text><text transform="translate(1257,805) rotate(-45)">2023-11</text><text transform="translate(1304,805) rotate(-45)">2024-01</text>
</g>
<line x1="318" x2="368" y1="942" y2="942" stroke="#5b9bd5" stroke-width="6"/>
<line x1="568" x2="618" y1="942" y2="942" stroke="#ed7d31" stroke-width="6"/>
<line x1="950" x2="1000" y1="942" y2="942" stroke="#a5a5a5" stroke-width="6"/>
<g class="t"><text x="372" y="950">国房景气指数</text><text x="620" y="950">房屋新开工面积:累计同比</text><text x="1003" y="950">房屋竣工面积:累计同比</text></g>
</g>
</svg>
</body></html>
